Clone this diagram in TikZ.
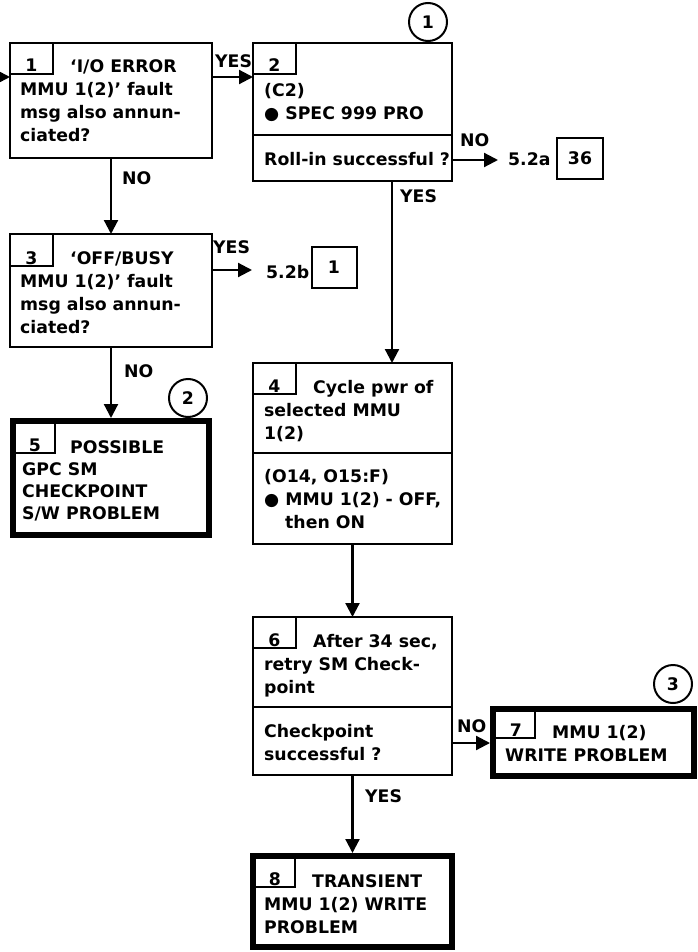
\documentclass[tikz,border=0pt]{standalone}
\usepackage{fontspec}
\setmainfont{DejaVu Sans}
\usetikzlibrary{arrows.meta,calc}
\newcommand{\tl}[1]{\begin{tabular}[t]{@{}l@{}}#1\end{tabular}}
\tikzset{
  txt/.style={font=\fontsize{17.3}{23}\selectfont\bfseries, inner sep=0pt, anchor=base west},
  num/.style={font=\fontsize{17.3}{23}\selectfont\bfseries, inner sep=0pt, anchor=base},
  box/.style={draw, line width=2.2pt, rectangle, inner sep=0pt, outer sep=0pt, anchor=north west},
  tbox/.style={draw, line width=6pt, rectangle, inner sep=0pt, outer sep=0pt, anchor=north west},
  tabline/.style={line width=1.6pt},
  arr/.style={line width=2.2pt, -{Triangle[length=14pt,width=14pt]}},
  refbox/.style={draw, line width=2pt, rectangle, inner sep=0pt, outer sep=0pt, font=\fontsize{17.3}{23}\selectfont\bfseries},
  circ/.style={draw, circle, line width=2pt, minimum size=38pt, inner sep=0pt, outer sep=0pt, font=\fontsize{17.3}{23}\selectfont\bfseries}
}
\begin{document}
\begin{tikzpicture}[x=1pt,y=-1pt]
\useasboundingbox (0,0) rectangle (697,952);
% helper coordinates
\coordinate (y77) at (0,77);
\coordinate (y160) at (0,160);
\coordinate (y270) at (0,270);
\coordinate (y743) at (0,743);
\coordinate (x392) at (392,0);
\coordinate (ein) at (0,77);

% ---------- Box 1
\node[box, minimum width=202pt, minimum height=115pt] (b1) at (10,43) {};
\draw[tabline] (53,43) -- (53,74) -- (10,74);
\node[num] (n1) at (31.5,72) {1};
\node[txt] (t1) at (20,73) {\tl{\hspace*{50pt}‘I/O ERROR\\MMU 1(2)’ fault\\msg also annun-\\ciated?}};

% ---------- Box 2
\node[box, minimum width=199pt, minimum height=138pt] (b2) at (253,43) {};
\draw[line width=2.2pt] (253,135) -- (452,135);
\draw[tabline] (296,43) -- (296,74) -- (253,74);
\node[num] (n2) at (274.5,72) {2};
\node[txt] (t2) at (264,97) {\tl{(C2)\\● SPEC 999 PRO}};
\node[txt] (t2b) at (264,165) {Roll-in successful ?};
\node[circ] (c1) at (428,22) {1};

% ---------- Box 3
\node[box, minimum width=202pt, minimum height=113pt] (b3) at (10,234) {};
\draw[tabline] (53,234) -- (53,266) -- (10,266);
\node[num] (n3) at (31.5,264) {3};
\node[txt] (t3) at (20,264) {\tl{\hspace*{50pt}‘OFF/BUSY\\MMU 1(2)’ fault\\msg also annun-\\ciated?}};

% ---------- Box 4
\node[box, minimum width=199pt, minimum height=181pt] (b4) at (253,363) {};
\draw[line width=2.2pt] (253,453) -- (452,453);
\draw[tabline] (296,363) -- (296,394) -- (253,394);
\node[num] (n4) at (274.5,392) {4};
\node[txt] (t4) at (264,393) {\tl{\hspace*{49pt}Cycle pwr of\\selected MMU\\1(2)}};
\node[txt] (t4b) at (264,482) {\tl{(O14, O15:F)\\● MMU 1(2) - OFF,\\\hspace*{21pt}then ON}};

% ---------- Box 5
\node[tbox, minimum width=196pt, minimum height=114pt] (b5) at (13,421) {};
\draw[tabline] (55,424) -- (55,453) -- (16,453);
\node[num] (n5) at (35,451) {5};
\node[txt] (t5) at (22,453) {\tl{\hspace*{48pt}POSSIBLE\\[-1pt]GPC SM\\[-1pt]CHECKPOINT\\[-1pt]S/W PROBLEM}};
\node[circ] (c2) at (188,398) {2};

% ---------- Box 6
\node[box, minimum width=199pt, minimum height=158pt] (b6) at (253,617) {};
\draw[line width=2.2pt] (253,707) -- (452,707);
\draw[tabline] (296,617) -- (296,648) -- (253,648);
\node[num] (n6) at (274.5,646) {6};
\node[txt] (t6) at (264,647) {\tl{\hspace*{49pt}After 34 sec,\\retry SM Check-\\point}};
\node[txt] (t6b) at (264,737) {\tl{Checkpoint\\successful ?}};

% ---------- Box 7
\node[tbox, minimum width=201pt, minimum height=67pt] (b7) at (493,709) {};
\draw[tabline] (535,712) -- (535,738) -- (496,738);
\node[num] (n7) at (516,736) {7};
\node[txt] (t7) at (505,738) {\tl{\hspace*{47pt}MMU 1(2)\\WRITE PROBLEM}};
\node[circ] (c3) at (673,684) {3};

% ---------- Box 8
\node[tbox, minimum width=199pt, minimum height=91pt] (b8) at (253,856) {};
\draw[tabline] (295,859) -- (295,887) -- (256,887);
\node[num] (n8) at (275,885) {8};
\node[txt] (t8) at (264,887) {\tl{\hspace*{48pt}TRANSIENT\\MMU 1(2) WRITE\\PROBLEM}};

% ---------- off-page references
\node[txt] (r52a) at (508,165) {5.2a};
\node[refbox, minimum width=46pt, minimum height=41pt] (r36) at (580,158.5) {36};
\node[txt] (r52b) at (266,278) {5.2b};
\node[refbox, minimum width=45pt, minimum height=41pt] (r1) at (334,267.5) {1};

% ---------- connectors
\draw[arr] (ein) -- (ein -| b1.west);
\draw[arr] (b1.east |- y77) -- (b2.west |- y77);
\draw[arr] (b1.south) -- (b3.north);
\draw[arr] (b2.east |- y160) -- ($(r52a.west |- y160)+(-10,0)$);
\draw[arr] (b2.south -| x392) -- (b4.north -| x392);
\draw[arr] (b3.east |- y270) -- ($(r52b.west |- y270)+(-14,0)$);
\draw[arr, shorten >=3pt] (b3.south) -- (b5.north);
\draw[arr] (b4.south) -- (b6.north);
\draw[arr, shorten >=3pt] (b6.east |- y743) -- (b7.west |- y743);
\draw[arr, shorten >=3pt] (b6.south) -- (b8.north);

% ---------- connector labels
\node[txt] (lyes1) at (215,68) {YES};
\node[txt] (lno1) at (122,184) {NO};
\node[txt] (lno2) at (460,147) {NO};
\node[txt] (lyes2) at (400,202) {YES};
\node[txt] (lyes3) at (213,253) {YES};
\node[txt] (lno3) at (124,377) {NO};
\node[txt] (lno4) at (457,732) {NO};
\node[txt] (lyes4) at (365,802) {YES};
\end{tikzpicture}
\end{document}
